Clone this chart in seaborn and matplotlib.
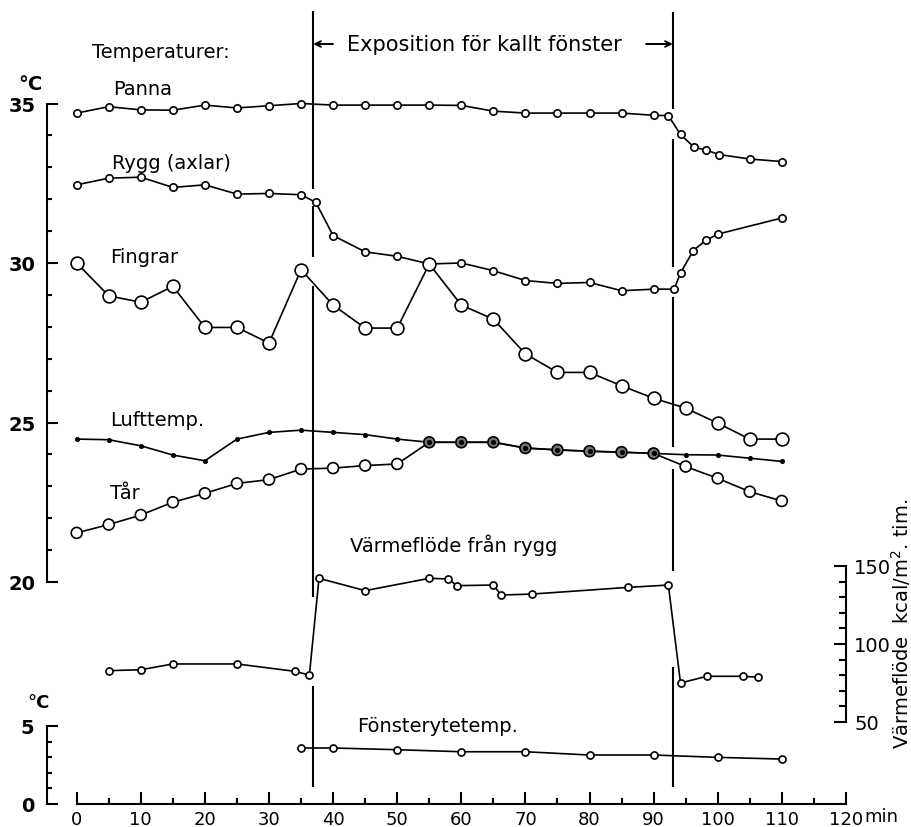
import numpy as np
import pandas as pd
import matplotlib
matplotlib.use("Agg")
import matplotlib.pyplot as plt
import seaborn as sns
from matplotlib.ticker import FixedLocator

# Values
tid = [0, 5, 10, 15, 20, 25, 30, 35, 40, 45, 50, 55, 60, 65, 70, 75, 80, 85, 90, 95, 100, 105, 110]

panna_tid = [0, 5, 10, 15, 20, 25, 30, 35, 40, 45, 50, 55, 60, 65, 70, 75, 80, 85, 90, 92.3, 94.2, 96.3, 98.2, 100.2, 105, 110]
panna = [34.70, 34.90, 34.80, 34.79, 34.95, 34.86, 34.93, 35.00, 34.95, 34.95, 34.95, 34.95, 34.94, 34.76, 34.70,
         34.70, 34.70, 34.70, 34.63, 34.62, 34.03, 33.63, 33.54, 33.40, 33.26, 33.18]

rygg_tid = [0, 5, 10, 15, 20, 25, 30, 35, 37.3, 40, 45, 50, 55, 60, 65, 70, 75, 80, 85, 90, 93.2, 94.2, 96.2, 98.2, 100.1, 110]
rygg = [32.45, 32.66, 32.69, 32.37, 32.45, 32.16, 32.18, 32.14, 31.90, 30.86, 30.35, 30.21, 29.97, 30.00, 29.76,
        29.45, 29.36, 29.39, 29.13, 29.18, 29.18, 29.69, 30.39, 30.72, 30.91, 31.41]

fingrar = [30.00, 28.97, 28.77, 29.27, 27.98, 27.98, 27.49, 29.79, 28.68, 27.96, 27.96, 29.97, 28.68, 28.24,
           27.15, 26.57, 26.57, 26.15, 25.76, 25.45, 24.98, 24.48, 24.48]
lufttemp = [24.48, 24.46, 24.27, 23.98, 23.80, 24.48, 24.69, 24.76, 24.69, 24.62, 24.48, 24.38, 24.38, 24.38,
            24.20, 24.14, 24.10, 24.07, 24.03, 23.99, 23.98, 23.88, 23.78]
tar = [21.54, 21.80, 22.10, 22.50, 22.78, 23.09, 23.21, 23.54, 23.57, 23.65, 23.70, 24.38, 24.38, 24.38,
       24.20, 24.14, 24.10, 24.07, 24.03, 23.62, 23.25, 22.83, 22.54]

fonster_tid = [35, 40, 50, 60, 70, 80, 90, 100, 110]
fonster = [3.59, 3.59, 3.48, 3.35, 3.35, 3.14, 3.14, 2.99, 2.88]

flode_tid = [5, 10, 15, 25, 34, 36.3, 37.8, 45, 55, 58, 59.3, 65, 66.2, 71, 86, 92.3, 94.2, 98.3, 104, 106.3]
flode = [82.9, 83.5, 87.2, 87.2, 82.5, 80.1, 142.1, 134.2, 142.1, 141.7, 137.4, 137.8, 131.4, 132.0,
         136.3, 137.8, 75.0, 79.3, 79.3, 78.7]

exp_start, exp_slut = 36.9, 93.0

# scan calibration (pixels)
W, H = 912, 828
X0, PX_MIN = 76.7, 6.41
Y20, PX_C = 583.0, 31.9
Y0_LOW, PX_LOW = 805.0, 15.6
Y150, PX_FLOW = 567.0, 1.56

def t_px(px):
    return (px - X0) / PX_MIN

def c_px(py):
    return 20 + (Y20 - py) / PX_C

sns.set_style("white")
plt.rcParams['font.family'] = ['DejaVu Sans']
plt.rcParams['axes.edgecolor'] = 'black'
plt.rcParams['text.color'] = 'black'
plt.rcParams['xtick.color'] = 'black'
plt.rcParams['ytick.color'] = 'black'
plt.rcParams['axes.labelcolor'] = 'black'

fig = plt.figure(figsize=(W / 100, H / 100), dpi=100)
L, R, T, B = 40, 870, 5, 805
ax = fig.add_axes([L / W, 1 - B / H, (R - L) / W, (B - T) / H])
ax.set_xlim(t_px(L), t_px(R))
ax.set_ylim(c_px(B), c_px(T))

ax_low = ax.twinx()
ax_low.set_ylim((Y0_LOW - B) / PX_LOW, (Y0_LOW - T) / PX_LOW)
ax_flow = ax.twinx()
ax_flow.set_ylim(150 - (B - Y150) / PX_FLOW, 150 + (Y150 - T) / PX_FLOW)

spine_x = t_px(46.7)
lw_sp = 1.5

# main axes: upper temperature scale + time axis
for s in ['top', 'right']:
    ax.spines[s].set_visible(False)
ax.spines['left'].set_position(('data', spine_x))
ax.spines['left'].set_bounds(20, 35)
ax.spines['bottom'].set_bounds(0, 120)
for s in ['left', 'bottom']:
    ax.spines[s].set_linewidth(lw_sp)
ax.xaxis.set_major_locator(FixedLocator(list(range(0, 121, 10))))
ax.xaxis.set_minor_locator(FixedLocator(list(range(5, 120, 10))))
ax.yaxis.set_major_locator(FixedLocator([20, 25, 30, 35]))
ax.yaxis.set_minor_locator(FixedLocator([v for v in range(21, 35) if v % 5]))
ax.tick_params(axis='x', which='both', bottom=True, direction='in', width=1.5, pad=4, labelsize=13)
ax.tick_params(axis='x', which='major', length=9)
ax.tick_params(axis='x', which='minor', length=4.5)
ax.tick_params(axis='y', which='both', left=True, right=False, direction='in', width=1.5, pad=8, labelsize=14)
ax.tick_params(axis='y', which='major', length=8)
ax.tick_params(axis='y', which='minor', length=3.5)
ax.set_yticklabels(['20', '25', '30', '35'], fontweight='bold')

# lower temperature scale (window surface)
for s in ['top', 'right', 'bottom']:
    ax_low.spines[s].set_visible(False)
ax_low.yaxis.set_ticks_position('left')
ax_low.spines['left'].set_position(('data', spine_x))
ax_low.spines['left'].set_bounds(0, 5)
ax_low.spines['left'].set_linewidth(lw_sp)
ax_low.yaxis.set_major_locator(FixedLocator([0, 5]))
ax_low.yaxis.set_minor_locator(FixedLocator([1, 2, 3, 4]))
ax_low.tick_params(axis='y', which='both', left=True, right=False, direction='in', width=1.5, pad=9, labelsize=14)
ax_low.tick_params(axis='y', which='major', length=8)
ax_low.tick_params(axis='y', which='minor', length=3.5)
ax_low.set_yticklabels(['0', '5'], fontweight='bold')

# heat flow scale on the right
for s in ['top', 'left', 'bottom']:
    ax_flow.spines[s].set_visible(False)
ax_flow.spines['right'].set_position(('data', 120))
ax_flow.spines['right'].set_bounds(50, 150)
ax_flow.spines['right'].set_linewidth(lw_sp)
ax_flow.yaxis.set_major_locator(FixedLocator([50, 100, 150]))
ax_flow.yaxis.set_minor_locator(FixedLocator([60, 70, 80, 90, 110, 120, 130, 140]))
ax_flow.tick_params(axis='y', which='both', right=True, left=False, direction='in', width=1.5, pad=6, labelsize=14)
ax_flow.tick_params(axis='y', which='major', length=9)
ax_flow.tick_params(axis='y', which='minor', length=5)


def serie(a, t, v, size, face='white', lw=1.2):
    sns.lineplot(x=t, y=v, ax=a, color='black', lw=lw, estimator=None, sort=False, zorder=3)
    sns.scatterplot(x=t, y=v, ax=a, s=size, color='black', facecolor=face, edgecolor='black',
                    linewidth=1.2, zorder=4, clip_on=False)


serie(ax, panna_tid, panna, 28)
serie(ax, rygg_tid, rygg, 28)
serie(ax, tid, fingrar, 85)
# Tår circles are shaded where they coincide with the air temperature
tar_face = ['0.45' if abs(a - b) < 0.02 else 'white' for a, b in zip(tar, lufttemp)]
serie(ax, tid, tar, 62, face=tar_face)
sns.lineplot(x=tid, y=lufttemp, ax=ax, color='black', lw=1.2, estimator=None, sort=False, zorder=3)
sns.scatterplot(x=tid, y=lufttemp, ax=ax, s=10, color='black', edgecolor='black', linewidth=0.5, zorder=5)
serie(ax_low, fonster_tid, fonster, 26)
serie(ax_flow, flode_tid, flode, 26)

# exposure period markers (broken where they cross the curves)
segs_start = [(12, 190), (207, 258), (287, 598), (687, 788)]
segs_slut = [(13, 110), (140, 268), (298, 448), (470, 572), (668, 788)]
for x, segs in [(exp_start, segs_start), (exp_slut, segs_slut)]:
    for y1, y2 in segs:
        ax.vlines(x, c_px(y2), c_px(y1), color='black', lw=1.5, zorder=2)

ax.set_xlabel('')
ax.set_ylabel('')
ax_low.set_ylabel('')
ax_flow.set_ylabel('')

# annotations
fs = 14
ax.annotate('', xy=(exp_start, c_px(45)), xytext=(t_px(333), c_px(45)),
            arrowprops=dict(arrowstyle='->', lw=1.4, color='black', shrinkA=0, shrinkB=0))
ax.annotate('', xy=(exp_slut, c_px(45)), xytext=(t_px(646), c_px(45)),
            arrowprops=dict(arrowstyle='->', lw=1.4, color='black', shrinkA=0, shrinkB=0))
ax.text(t_px(484), c_px(45), 'Exposition för kallt fönster', ha='center', va='center', fontsize=15)

labels = [('Temperaturer:', 92, 52), ('Panna', 113, 89), ('Rygg (axlar)', 112, 164),
          ('Fingrar', 110, 258), ('Lufttemp.', 110, 421), ('Tår', 110, 494),
          ('Värmeflöde från rygg', 350, 545), ('Fönsterytetemp.', 357, 727)]
for txt, px, py in labels:
    ax.text(t_px(px), c_px(py), txt, ha='left', va='center', fontsize=fs)

ax.text(t_px(864), c_px(817), 'min', ha='left', va='center', fontsize=13, clip_on=False)
fig.text(30 / W, 1 - 84 / H, '°C', ha='center', va='center', fontsize=14, fontweight='bold')
fig.text(39 / W, 1 - 703 / H, '°C', ha='center', va='center', fontsize=13, fontweight='bold')
fig.text(901 / W, 1 - 624 / H, 'Värmeflöde  kcal/m$^2$. tim.', ha='center', va='center',
         rotation=90, fontsize=14)

fig.savefig('out.png', dpi=100)
